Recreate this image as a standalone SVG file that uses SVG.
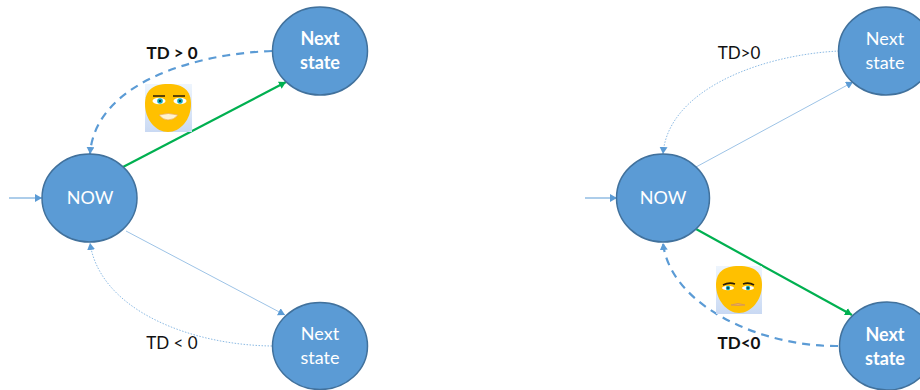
<svg xmlns="http://www.w3.org/2000/svg" width="920" height="390" viewBox="0 0 920 390">
<style>
.n{fill:#5b9bd5;stroke:#41719c;stroke-width:1.5}
.t{font-family:Lato,"Liberation Sans",sans-serif;font-size:18px;fill:#fff;text-anchor:middle}
.b{font-weight:700}
.l{font-family:Lato,"Liberation Sans",sans-serif;font-size:17px;fill:#111;text-anchor:middle}
.thin{fill:none;stroke:#5b9bd5;stroke-width:1}
.pale{fill:none;stroke:#9dc3e6;stroke-width:1}
.dot{fill:none;stroke:#7fb2e0;stroke-width:.9;stroke-dasharray:1.5 1.5}
.dash{fill:none;stroke:#5b9bd5;stroke-width:2.2;stroke-dasharray:8 6}
.green{fill:none;stroke:#00b050;stroke-width:2.2}
.skin{fill:#ffc000}
.bg{fill:url(#g)}
.brow{fill:none;stroke:#2a1c08;stroke-width:1.7}
.eye{fill:#fff}
.iris{fill:#12a8b8}
.pup{fill:#123}
</style>
<defs>
<linearGradient id="g" x1="0" y1="0" x2="0" y2="1"><stop offset="0" stop-color="#eef5fd"/><stop offset="1" stop-color="#c9d9f3"/></linearGradient>
<marker id="mb" markerUnits="userSpaceOnUse" markerWidth="9" markerHeight="9" refX="7" refY="4" orient="auto"><path d="M0 0L7 4L0 8Z" fill="#5b9bd5"/></marker>
<marker id="mg" markerUnits="userSpaceOnUse" markerWidth="9" markerHeight="9" refX="7" refY="4" orient="auto"><path d="M0 0L7 4L0 8Z" fill="#00b050"/></marker>
</defs>
<g id="connectors">
<path class="thin" d="M9 198H42" marker-end="url(#mb)"/>
<path class="dash" d="M272 51C190 54 95 85 90 154" marker-end="url(#mb)"/>
<path class="green" d="M123 167L286 82" marker-end="url(#mg)"/>
<path class="pale" d="M126 231L285 315" marker-end="url(#mb)"/>
<path class="dot" d="M272 346C190 345 100 310 90 243" marker-end="url(#mb)"/>
<path class="thin" d="M585 198H617" marker-end="url(#mb)"/>
<path class="dot" d="M839 51C760 55 668 90 663 154" marker-end="url(#mb)"/>
<path class="pale" d="M696 167L853 82" marker-end="url(#mb)"/>
<path class="green" d="M696 229L852 315" marker-end="url(#mg)"/>
<path class="dash" d="M838 346C760 347 670 305 663 243" marker-end="url(#mb)"/>
</g>
<g id="now-left"><ellipse class="n" cx="89.5" cy="198" rx="47.5" ry="44"/><text class="t" x="90" y="204">NOW</text></g>
<g id="next-top-left"><ellipse class="n" cx="320" cy="51" rx="47.5" ry="44"/><text class="t b" x="320" y="45">Next</text><text class="t b" x="320" y="69">state</text></g>
<g id="next-bottom-left"><ellipse class="n" cx="320" cy="346" rx="47.5" ry="43.5"/><text class="t" x="320" y="340">Next</text><text class="t" x="320" y="364">state</text></g>
<g id="now-right"><ellipse class="n" cx="663" cy="198" rx="46.5" ry="44"/><text class="t" x="663" y="204">NOW</text></g>
<g id="next-top-right"><ellipse class="n" cx="886" cy="51" rx="47.5" ry="44"/><text class="t" x="885" y="45">Next</text><text class="t" x="885" y="69">state</text></g>
<g id="next-bottom-right"><ellipse class="n" cx="887" cy="346" rx="47.5" ry="44"/><text class="t b" x="885" y="341">Next</text><text class="t b" x="885" y="365">state</text></g>
<text class="l b" x="172" y="59">TD &gt; 0</text>
<text class="l" x="172" y="349">TD &lt; 0</text>
<text class="l" x="739" y="59">TD&gt;0</text>
<text class="l b" x="739" y="349">TD&lt;0</text>
<g id="face-happy">
<rect class="bg" x="145" y="84" width="47" height="48"/>
<path class="skin" d="M168 84C184 84 191 91 191 104C191 120 180 132 168 132C156 132 145 120 145 104C145 91 152 84 168 84Z"/>
<path class="brow" d="M153 96H165M173 96H185"/>
<ellipse class="eye" cx="159" cy="101" rx="6.5" ry="3.2"/><ellipse class="eye" cx="180" cy="101" rx="6.5" ry="3.2"/>
<circle class="iris" cx="160" cy="101" r="2.8"/><circle class="iris" cx="180" cy="101" r="2.8"/>
<circle class="pup" cx="160" cy="101" r="1"/><circle class="pup" cx="180" cy="101" r="1"/>
<path d="M159 115Q168 112 178 115Q174 120 168 120Q163 120 159 115Z" fill="#fff3d0" stroke="#e8a858" stroke-width=".7"/>
</g>
<g id="face-sad">
<rect class="bg" x="716" y="266" width="46" height="48"/>
<path class="skin" d="M739 266C755 266 762 273 762 285C762 300 751 313 739 313C727 313 716 300 716 285C716 273 723 266 739 266Z"/>
<path class="brow" d="M723 285Q729 282 735 284M743 284Q749 282 754 285"/>
<ellipse class="eye" cx="728" cy="288" rx="6" ry="2.2"/><ellipse class="eye" cx="748" cy="288" rx="6" ry="2.2"/>
<circle class="iris" cx="728" cy="288" r="2.2"/><circle class="iris" cx="748" cy="288" r="2.2"/>
<circle class="pup" cx="728" cy="288" r=".9"/><circle class="pup" cx="748" cy="288" r=".9"/>
<path d="M731 305Q738 302 745 305Q738 306 731 305Z" fill="#eeb060" stroke="#d99a50" stroke-width="1"/>
</g>
</svg>
